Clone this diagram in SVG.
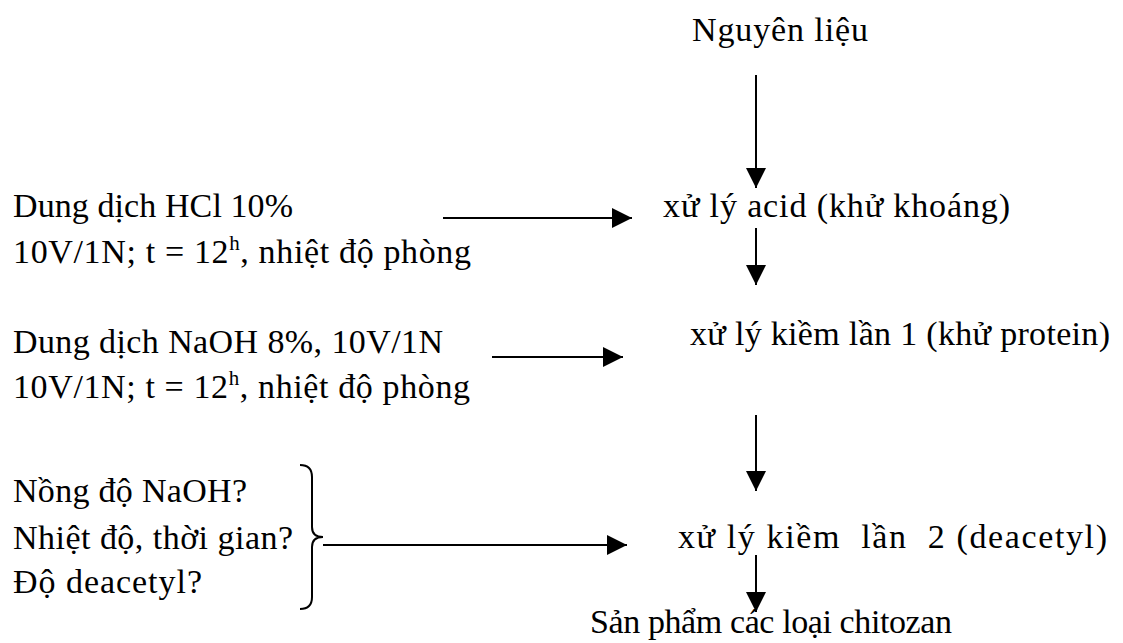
<svg xmlns="http://www.w3.org/2000/svg" width="1123" height="643" viewBox="0 0 1123 643">
<style>
text{font-family:"Liberation Serif","Times New Roman",serif;font-size:34px;fill:#000;white-space:pre}
.sup{font-size:21px}
.ln{stroke:#000;stroke-width:2;fill:none}
</style>
<defs>
<marker id="ah" markerWidth="20" markerHeight="20" refX="20" refY="10" orient="auto" markerUnits="userSpaceOnUse"><path d="M0,0 L20,10 L0,20 z" fill="#000"/></marker>
</defs>
<rect width="1123" height="643" fill="#fff"/>
<g id="n-nguyenlieu"><text x="692" y="41" textLength="176" lengthAdjust="spacing">Nguyên liệu</text></g>
<g id="n-acid"><text x="663" y="217" textLength="347" lengthAdjust="spacing">xử lý acid (khử khoáng)</text></g>
<g id="n-kiem1"><text x="690" y="345" textLength="420" lengthAdjust="spacing">xử lý kiềm lần 1 (khử protein)</text></g>
<g id="n-kiem2"><text x="678" y="548" textLength="429" lengthAdjust="spacing" xml:space="preserve">xử lý kiềm  lần  2 (deacetyl)</text></g>
<g id="n-sanpham"><text x="590" y="633" textLength="362" lengthAdjust="spacing">Sản phẩm các loại chitozan</text></g>
<g id="n-hcl">
<text x="13" y="217" textLength="280" lengthAdjust="spacing">Dung dịch HCl 10%</text>
<text x="13" y="263" textLength="458" lengthAdjust="spacing">10V/1N; t = 12<tspan class="sup" dy="-13">h</tspan><tspan dy="13">, nhiệt độ phòng</tspan></text>
</g>
<g id="n-naoh">
<text x="13" y="353" textLength="430" lengthAdjust="spacing">Dung dịch NaOH 8%, 10V/1N</text>
<text x="13" y="398" textLength="457" lengthAdjust="spacing">10V/1N; t = 12<tspan class="sup" dy="-13">h</tspan><tspan dy="13">, nhiệt độ phòng</tspan></text>
</g>
<g id="n-params">
<text x="13" y="502" textLength="234" lengthAdjust="spacing">Nồng độ NaOH?</text>
<text x="13" y="549" textLength="280" lengthAdjust="spacing">Nhiệt độ, thời gian?</text>
<text x="13" y="593" textLength="189" lengthAdjust="spacing">Độ deacetyl?</text>
<path class="ln" d="M300,465 Q312,465 312,477 L312,527 Q312,537 323,537 Q312,537 312,547 L312,597 Q312,609 300,609"/>
</g>
<g id="connectors" class="ln" marker-end="url(#ah)">
<line x1="756" y1="75" x2="756" y2="188"/>
<line x1="756" y1="228" x2="756" y2="285"/>
<line x1="756" y1="415" x2="756" y2="491"/>
<line x1="756" y1="555" x2="756" y2="612"/>
<line x1="443" y1="218" x2="632" y2="218"/>
<line x1="492" y1="357" x2="623" y2="357"/>
<line x1="323" y1="545" x2="627" y2="545"/>
</g>
</svg>
